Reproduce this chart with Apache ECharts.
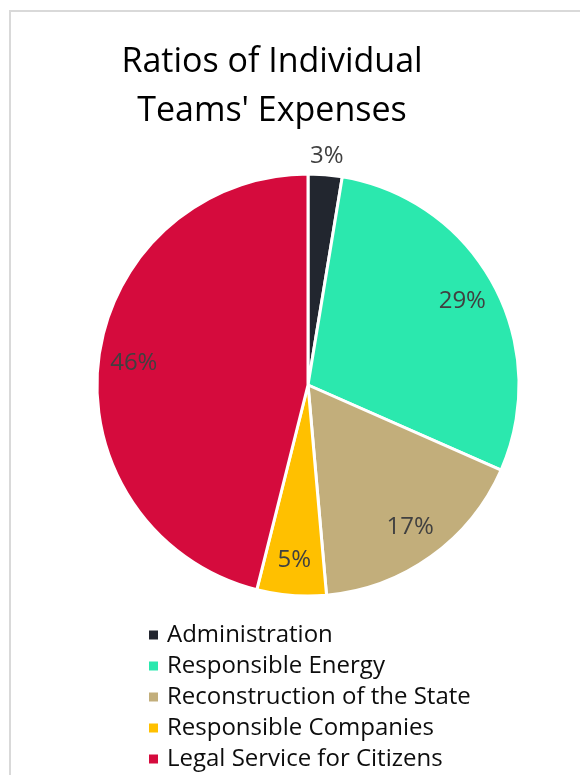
<!DOCTYPE html>
<html>
<head>
<meta charset="utf-8">
<script src="https://cdn.jsdelivr.net/npm/echarts@6/dist/echarts.min.js"></script>
<style>
  html, body { margin: 0; padding: 0; background: #fff; }
  #chart { width: 580px; height: 775px; }
</style>
</head>
<body>
<div id="chart"></div>
<script>
// team names and their share of expenses (percent)
const teams = ['Administration', 'Responsible Energy', 'Reconstruction of the State', 'Responsible Companies', 'Legal Service for Citizens']
const shares = [2.6, 29.0, 17.0, 5.3, 46.1]
const colors = ['#22262f', '#2be8ae', '#c2ae7b', '#ffc000', '#d50b3d']

const pieData = teams.map((name, i) => ({ name: name, value: shares[i] }))

const center = [308, 385]
const radius = 211
const font = '"Open Sans", "Noto Sans", sans-serif'

const myChart = echarts.init(document.getElementById('chart'))
const option = {
  animation: false,
  color: colors,
  title: {
    text: 'Ratios of Individual\nTeams\' Expenses',
    left: 267,
    top: 33,
    textAlign: 'center',
    textStyle: {
      fontFamily: font,
      fontSize: 34,
      fontWeight: 'normal',
      lineHeight: 49,
      color: '#000'
    }
  },
  // outer frame of the chart area
  graphic: [{
    type: 'rect',
    shape: { x: 10, y: 11, width: 700, height: 900 },
    style: { fill: 'none', stroke: '#d9d9d9', lineWidth: 2 },
    silent: true
  }],
  legend: {
    orient: 'vertical',
    left: 142,
    top: 617,
    height: 160,
    itemWidth: 11,
    itemHeight: 11,
    itemGap: 5,
    icon: 'rect',
    data: teams,
    textStyle: {
      fontFamily: font,
      fontSize: 24,
      lineHeight: 26,
      color: '#0d0d0d',
      padding: [0, 0, 0, 3]
    }
  },
  series: [
    {
      // the pie itself
      type: 'pie',
      center: center,
      radius: radius,
      startAngle: 90,
      silent: true,
      label: { show: false },
      labelLine: { show: false },
      itemStyle: { borderColor: '#fff', borderWidth: 3 },
      data: pieData
    },
    {
      // labels inside the larger slices
      type: 'pie',
      center: center,
      radius: [134, radius],
      startAngle: 90,
      silent: true,
      percentPrecision: 0,
      avoidLabelOverlap: false,
      itemStyle: { color: 'rgba(0,0,0,0)' },
      label: {
        show: true,
        position: 'inside',
        fontFamily: font,
        fontSize: 24,
        color: '#404040',
        formatter: p => (p.percent >= 4 ? p.percent + '%' : '')
      },
      labelLine: { show: false },
      data: pieData
    },
    {
      // label outside the thin slice
      type: 'pie',
      center: center,
      radius: [217, 237],
      startAngle: 90,
      silent: true,
      percentPrecision: 0,
      avoidLabelOverlap: false,
      itemStyle: { color: 'rgba(0,0,0,0)' },
      label: {
        show: true,
        position: 'inside',
        fontFamily: font,
        fontSize: 24,
        color: '#404040',
        formatter: p => (p.percent < 4 ? p.percent + '%' : '')
      },
      labelLine: { show: false },
      data: pieData
    }
  ]
}
myChart.setOption(option)
</script>
</body>
</html>
